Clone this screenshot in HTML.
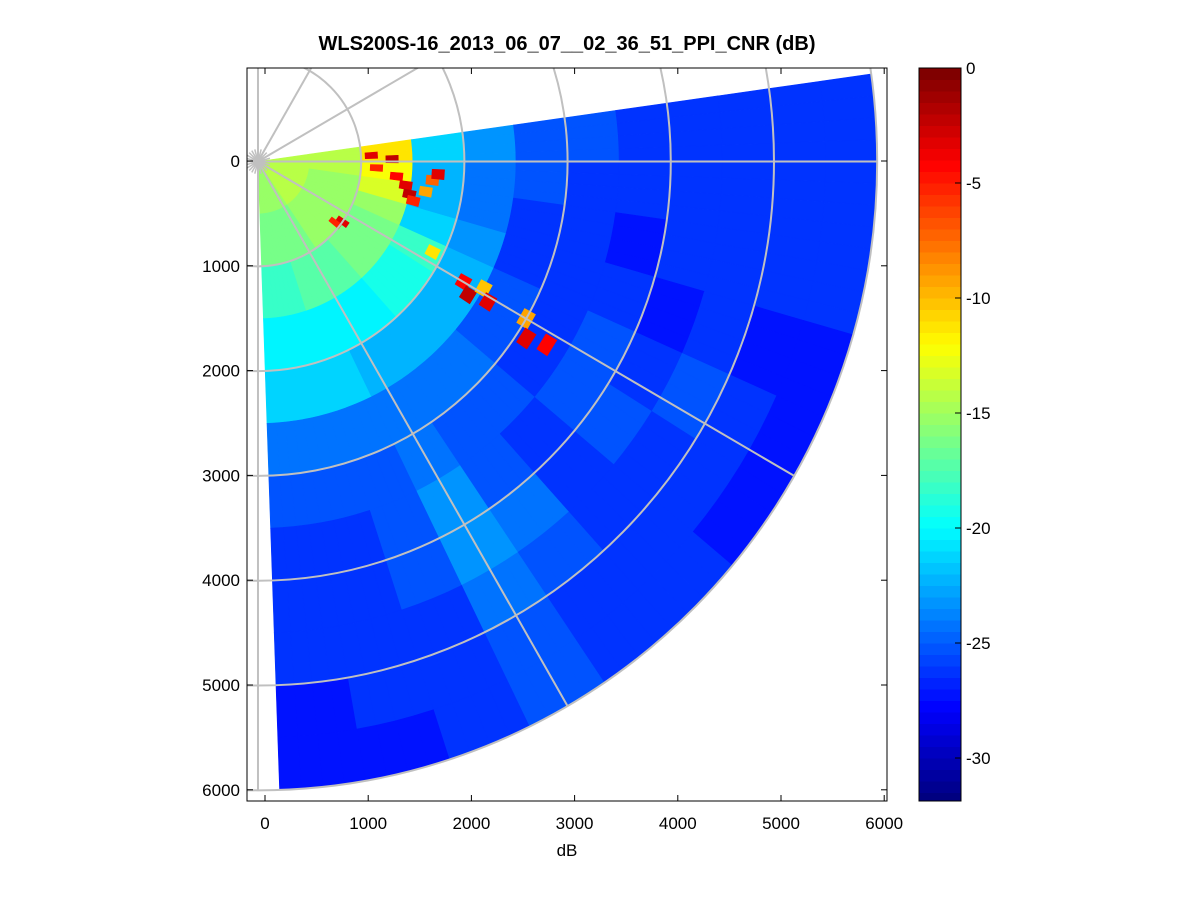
<!DOCTYPE html>
<html><head><meta charset="utf-8"><style>
html,body{margin:0;padding:0;background:#fff;overflow:hidden;}
svg{display:block;}
svg text{font-family:"Liberation Sans",sans-serif;}
</style></head><body>
<svg id="chart" width="1201" height="901" xmlns="http://www.w3.org/2000/svg">
<rect width="1201" height="901" fill="#fff"/>
<text x="567" y="50" font-size="20" font-weight="bold" text-anchor="middle">WLS200S-16_2013_06_07__02_36_51_PPI_CNR (dB)</text>
<defs><clipPath id="axclip"><rect x="247" y="68" width="640" height="733"/></clipPath></defs>
<g id="cells" clip-path="url(#axclip)"></g>
<g id="grid" clip-path="url(#axclip)"></g>
<rect x="247" y="68" width="640" height="733" fill="none" stroke="#000" stroke-width="1"/>
<g id="axes"></g>
<g id="cbar"></g>
<text x="567" y="856" font-size="17" text-anchor="middle">dB</text>
</svg>
<script>
const rangeEdges=[0,500,1000,1500,2000,2500,3000,3500,4000,4500,5000,5500,6000];
const beamAngles=[-8,0,8,16,24,32,40,48,56,64,72,80,88];
const cnrGrid=[
[-14,-14,-11,-21,-23,-25,-25,-26,-26,-26,-26,-26],
[-14,-14,-12,-22,-24,-25,-26,-26,-26,-26,-26,-26],
[-14,-15,-13,-22,-24,-26,-26,-27,-26,-26,-26,-26],
[-14,-15,-15,-21,-23,-26,-26,-26,-27,-26,-27,-27],
[-14,-15,-16,-18,-22,-25,-26,-25,-26,-25,-26,-27],
[-14,-15,-16,-19,-22,-25,-26,-25,-25,-26,-26,-27],
[-14,-15,-16,-19,-22,-24,-25,-26,-26,-26,-26,-26],
[-14,-15,-17,-20,-22,-24,-25,-25,-24,-25,-26,-26],
[-15,-16,-17,-20,-22,-24,-24,-23,-23,-24,-25,-25],
[-15,-16,-17,-20,-21,-24,-25,-25,-25,-26,-26,-26],
[-15,-16,-18,-20,-21,-24,-25,-26,-26,-26,-26,-27],
[-15,-16,-18,-20,-21,-24,-25,-26,-26,-26,-27,-27]];
const hotRange=[1100,1150,1300,1350,1450,1500,1550,1650,1700,1750,1000,950,2300,2400,2500,2600,3000,3100,3300,1900];
const hotAngle=[-3,3,-1,6,9,12,14,10,6,4,35,38,30,32,29,31,30,33,32,27];
const hotValue=[-3,-5,-2,-4,-3,-2,-5,-9,-7,-3,-3,-5,-4,-2,-10,-3,-9,-3,-4,-11];
const cbTicks=[0,-5,-10,-15,-20,-25,-30];
const xTicks=[0,1000,2000,3000,4000,5000,6000];
const yTicks=[0,1000,2000,3000,4000,5000,6000];

const X=v=>265+v*0.1032, Y=v=>161+v*0.1048;
const OX=-68, OY=5;
function P(r,a){const t=a*Math.PI/180;return [X(OX+r*Math.cos(t)),Y(OY+r*Math.sin(t))];}
function jet(v){let t=(v+32)/32;t=Math.max(0,Math.min(1,t));t=Math.floor(t*63.999)/63;
 const f=x=>Math.round(255*Math.max(0,Math.min(1,1.5-Math.abs(4*t-x))));return `rgb(${f(3)},${f(2)},${f(1)})`;}
const NS='http://www.w3.org/2000/svg';
function sector(r0,r1,a0,a1,fill,parent){
 const p=[P(r0,a0),P(r1,a0),P(r1,a1),P(r0,a1)];
 const e=document.createElementNS(NS,'polygon');
 e.setAttribute('points',p.map(q=>q.join(',')).join(' '));
 e.setAttribute('fill',fill);e.setAttribute('stroke',fill);e.setAttribute('stroke-width','0.6');
 
 
 parent.appendChild(e);}
const cells=document.getElementById('cells');
for(let b=0;b<beamAngles.length-1;b++)for(let r=0;r<rangeEdges.length-1;r++){
 const a0=beamAngles[b],a1=beamAngles[b+1];
 for(let s=0;s<4;s++) sector(rangeEdges[r],rangeEdges[r+1],a0+(a1-a0)*s/4,a0+(a1-a0)*(s+1)/4,jet(cnrGrid[b][r]),cells);}
for(let i=0;i<hotRange.length;i++) sector(hotRange[i]-60,hotRange[i]+60,hotAngle[i]-1.5,hotAngle[i]+1.5,jet(hotValue[i]),cells);

const grid=document.getElementById('grid');
for(let r=1000;r<=6000;r+=1000){const c=document.createElementNS(NS,'ellipse');
 c.setAttribute('cx',X(OX));c.setAttribute('cy',Y(OY));c.setAttribute('rx',r*0.1032);c.setAttribute('ry',r*0.1048);
 c.setAttribute('fill','none');c.setAttribute('stroke','#c0c0c0');c.setAttribute('stroke-width','2');
 
 
 grid.appendChild(c);}
for(let a=-90;a<=90;a+=30){const l=document.createElementNS(NS,'line');const q=P(6000,a);
 l.setAttribute('x1',X(OX));l.setAttribute('y1',Y(OY));l.setAttribute('x2',q[0]);l.setAttribute('y2',q[1]);
 l.setAttribute('stroke','#c0c0c0');l.setAttribute('stroke-width','2');
 
 
 grid.appendChild(l);}
for(let a=-180;a<180;a+=15){const l=document.createElementNS(NS,'line');const q=P(120,a);
 l.setAttribute('x1',X(OX));l.setAttribute('y1',Y(OY));l.setAttribute('x2',q[0]);l.setAttribute('y2',q[1]);
 l.setAttribute('stroke','#c0c0c0');l.setAttribute('stroke-width','1.5');
 
 
 grid.appendChild(l);}

const axes=document.getElementById('axes');
function add(tag,attrs,txt){const e=document.createElementNS(NS,tag);for(const k in attrs)e.setAttribute(k,attrs[k]);if(txt!==undefined)e.textContent=txt;axes.appendChild(e);return e;}
xTicks.forEach(v=>{const x=X(v);
 const t=add('line',{x1:x,y1:801,x2:x,y2:795,stroke:'#000'});
 const t2=add('line',{x1:x,y1:68,x2:x,y2:74,stroke:'#000'});
 const l=add('text',{x:x,y:829,'font-size':17,'text-anchor':'middle'},v);});
yTicks.forEach(v=>{const y=Y(v);
 const t=add('line',{x1:247,y1:y,x2:253,y2:y,stroke:'#000'});
 const t2=add('line',{x1:887,y1:y,x2:881,y2:y,stroke:'#000'});
 const l=add('text',{x:240,y:y+6,'font-size':17,'text-anchor':'end'},v);});

const cb=document.getElementById('cbar');
const CY=v=>68+(-v)*23;
for(let i=0;i<64;i++){const v0=-32+i*0.5;const r=document.createElementNS(NS,'rect');
 const yTop=Math.max(68,CY(v0+0.5)), yBot=Math.min(801,CY(v0));
 r.setAttribute('x',919);r.setAttribute('y',yTop);r.setAttribute('width',42);r.setAttribute('height',Math.max(0,yBot-yTop+0.5));
 r.setAttribute('fill',jet(v0+0.25));
 
 
 cb.appendChild(r);}
const fr=document.createElementNS(NS,'rect');fr.setAttribute('x',919);fr.setAttribute('y',68);fr.setAttribute('width',42);fr.setAttribute('height',733);fr.setAttribute('fill','none');fr.setAttribute('stroke','#000');


cb.appendChild(fr);
cbTicks.forEach(v=>{const y=CY(v);
 const t=document.createElementNS(NS,'line');t.setAttribute('x1',955);t.setAttribute('x2',961);t.setAttribute('y1',y);t.setAttribute('y2',y);t.setAttribute('stroke','#000');
 
 
 cb.appendChild(t);
 const l=document.createElementNS(NS,'text');l.setAttribute('x',966);l.setAttribute('y',y+6);l.setAttribute('font-size',17);l.textContent=v;
 
 
 cb.appendChild(l);});
</script>
</body></html>
